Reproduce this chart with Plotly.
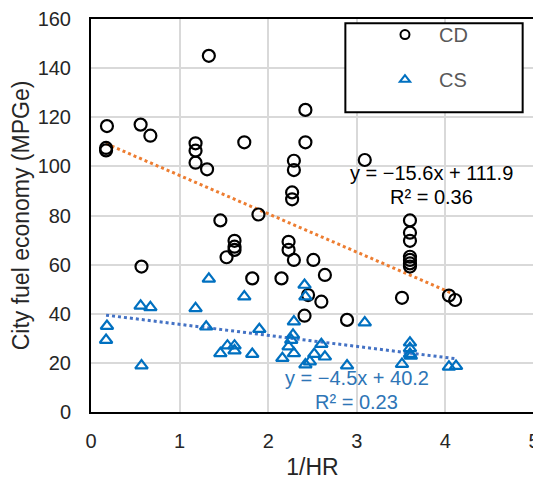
import plotly.graph_objects as go

# ---- data ----
cd_x = [0.18, 0.17, 0.17, 0.56, 0.67, 0.57, 1.18, 1.18, 1.18, 1.31, 1.33, 1.46, 1.53,
        1.62, 1.62, 1.62, 1.73, 1.82, 1.89, 2.15, 2.23, 2.23, 2.27, 2.27, 2.29, 2.29,
        2.29, 2.41, 2.42, 2.42, 2.45, 2.51, 2.60, 2.64, 2.89, 3.09, 3.51,
        3.60, 3.60, 3.60, 3.60, 3.60, 3.60, 3.60, 4.04, 4.11]
cd_y = [116.4, 107.5, 106.5, 117.0, 112.5, 59.2, 109.4, 106.4, 101.5, 98.8, 145.0, 78.0, 63.0,
        69.7, 67.3, 66.0, 109.8, 54.4, 80.4, 54.4, 69.3, 66.0, 89.4, 86.6, 102.3, 98.5,
        61.9, 39.2, 123.0, 109.8, 47.6, 61.9, 44.9, 55.8, 37.5, 102.6, 46.5,
        78.0, 73.0, 69.7, 63.2, 61.9, 60.5, 59.2, 47.4, 45.6]

cs_x = [0.18, 0.17, 0.56, 0.67, 0.57, 1.18, 1.30, 1.33, 1.46, 1.54, 1.62, 1.62, 1.73,
        1.82, 1.90, 2.16, 2.23, 2.26, 2.28, 2.29, 2.29, 2.41, 2.42, 2.42, 2.47, 2.52,
        2.60, 2.64, 2.89, 3.09, 3.51, 3.60, 3.60, 3.60, 3.61, 4.04, 4.12]
cs_y = [35.0, 29.3, 43.2, 42.6, 18.9, 42.2, 34.7, 54.2, 23.9, 27.0, 27.0, 25.0, 47.0,
        23.6, 33.7, 21.9, 26.6, 29.3, 31.4, 36.8, 23.9, 51.7, 47.0, 19.3, 20.5, 23.6,
        27.6, 22.5, 18.9, 36.4, 19.5, 28.2, 25.9, 23.6, 22.8, 18.4, 18.7]

cd_fit = (-15.6, 111.9)   # slope, intercept
cs_fit = (-4.5, 40.2)
cd_label = ["y = \u221215.6x + 111.9", "R\u00b2 = 0.36"]
cs_label = ["y = \u22124.5x + 40.2", "R\u00b2 = 0.23"]
series_names = ["CD", "CS"]

x_ticks = [0, 1, 2, 3, 4, 5]
y_ticks = [0, 20, 40, 60, 80, 100, 120, 140, 160]

FONT = "Arial, Liberation Sans, sans-serif"
FS = 20
FT = 23
TXT = "#262626"

fig = go.Figure()

def fit_line(xs, fit):
    x0, x1 = min(xs), max(xs)
    return [x0, x1], [fit[0] * x0 + fit[1], fit[0] * x1 + fit[1]]

lx, ly = fit_line(cd_x, cd_fit)
fig.add_trace(go.Scatter(x=lx, y=ly, mode="lines", showlegend=False,
                         line=dict(color="#ED7D31", width=3, dash="dot"), hoverinfo="skip"))
lx, ly = fit_line(cs_x, cs_fit)
fig.add_trace(go.Scatter(x=lx, y=ly, mode="lines", showlegend=False,
                         line=dict(color="#4472C4", width=3, dash="dot"), hoverinfo="skip"))

fig.add_trace(go.Scatter(x=cd_x, y=cd_y, mode="markers", showlegend=False,
                         marker=dict(symbol="circle-open", size=12, color="#000000",
                                     line=dict(width=2.2, color="#000000"))))
fig.add_trace(go.Scatter(x=cs_x, y=cs_y, mode="markers", showlegend=False,
                         marker=dict(symbol="triangle-up-open", size=11, color="#0070C0",
                                     line=dict(width=2.2, color="#0070C0"))))

# legend-only entries (smaller symbols, as in the reference legend)
fig.add_trace(go.Scatter(x=[None], y=[None], mode="markers", name=series_names[0], legendgroup="a",
                         marker=dict(symbol="circle-open", size=9, color="#000000",
                                     line=dict(width=2, color="#000000"))))
fig.add_trace(go.Scatter(x=[None], y=[None], mode="markers", name=series_names[1], legendgroup="b",
                         marker=dict(symbol="triangle-up-open", size=9, color="#0070C0",
                                     line=dict(width=2, color="#0070C0"))))

fig.add_annotation(x=3.84, y=97.3, text=cd_label[0], showarrow=False,
                   font=dict(family=FONT, size=FS, color="#000000"))
fig.add_annotation(x=3.84, y=87.7, text=cd_label[1], showarrow=False,
                   font=dict(family=FONT, size=FS, color="#000000"))
fig.add_annotation(x=3.0, y=13.8, text=cs_label[0], showarrow=False,
                   font=dict(family=FONT, size=FS, color="#2E75B6"))
fig.add_annotation(x=3.0, y=4.2, text=cs_label[1], showarrow=False,
                   font=dict(family=FONT, size=FS, color="#2E75B6"))

axis_common = dict(showgrid=True, gridcolor="#D9D9D9", gridwidth=1.5, zeroline=False,
                   showline=True, linecolor="#000000", linewidth=2, mirror=True,
                   ticks="", tickfont=dict(family=FONT, size=FS, color=TXT))

fig.update_xaxes(range=[0, 5], tickvals=x_ticks, ticklabelstandoff=10,
                 title=dict(text="1/HR", font=dict(family=FONT, size=FT, color=TXT), standoff=8),
                 **axis_common)
fig.update_yaxes(range=[0, 160], tickvals=y_ticks, ticklabelstandoff=14,
                 title=dict(text="City fuel economy (MPGe)", font=dict(family=FONT, size=FT, color=TXT),
                            standoff=9),
                 **axis_common)

# legend box (page px -> data units: x0 at 92.5 px, 88.3 px/unit; y0 at 412 px, 2.456 px/unit)
fig.add_shape(type="rect", xref="x", yref="y",
              x0=(346 - 92.5) / 88.3, x1=(522.7 - 92.5) / 88.3,
              y0=(412 - 112.3) / 2.456, y1=(412 - 23.3) / 2.456,
              line=dict(color="#000000", width=2), fillcolor="#FFFFFF", layer="above")

# the page has an 8px body margin, so the figure is 8px smaller than the window
fig.update_layout(
    width=533, height=475,
    margin=dict(l=83, r=7, t=11, b=71, autoexpand=False),
    plot_bgcolor="#FFFFFF", paper_bgcolor="#FFFFFF",
    font=dict(family=FONT),
    legend=dict(x=0.632, y=1.01, xanchor="left", yanchor="top", itemwidth=58,
                bgcolor="rgba(0,0,0,0)", borderwidth=0, tracegroupgap=16,
                font=dict(family=FONT, size=FS, color="#595959")),
)

fig.write_html("out.html")
